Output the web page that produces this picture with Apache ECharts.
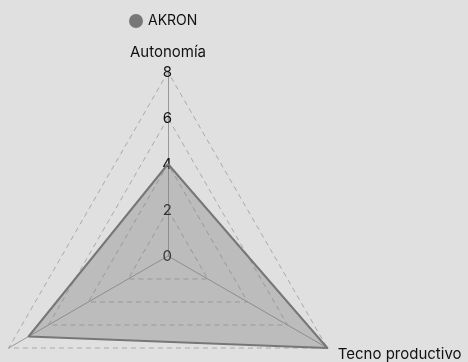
<!DOCTYPE html>
<html>
<head>
<meta charset="utf-8">
<script src="https://cdn.jsdelivr.net/npm/echarts@6/dist/echarts.min.js"></script>
<style>
  html, body { margin: 0; padding: 0; background: #e0e0e0; }
  #main { width: 468px; height: 362px; }
</style>
</head>
<body>
<div id="main"></div>
<script>
// radar goes counter-clockwise: top, bottom-left, bottom-right
var indicators = ['Autonomía', 'Gestión', 'Tecno productivo']
var values = [4, 7, 8]
var seriesName = 'AKRON'
var maxValue = 8

var chartDom = document.getElementById('main')
var myChart = echarts.init(chartDom)
var option

option = {
  backgroundColor: '#e0e0e0',
  textStyle: { fontFamily: 'Inter' },
  legend: {
    data: [seriesName],
    top: 9,
    left: 124,
    icon: 'circle',
    itemWidth: 14,
    itemHeight: 14,
    itemGap: 8,
    textStyle: { color: '#111', fontSize: 14 }
  },
  radar: {
    center: [168, 256],
    radius: 184,
    shape: 'polygon',
    splitNumber: 4,
    indicator: indicators.map((name, i) => ({
      name: name,
      min: 0,
      max: maxValue,
      axisLabel: { show: i === 0 }
    })),
    axisName: { color: '#111', fontSize: 15 },
    nameGap: 12,
    splitArea: { show: false },
    splitLine: {
      lineStyle: { color: '#aaa', type: [5, 4], width: 1 }
    },
    axisLine: { lineStyle: { color: '#999', width: 1 } },
    axisLabel: {
      color: '#111',
      fontSize: 15,
      margin: -4
    }
  },
  series: [
    {
      name: seriesName,
      type: 'radar',
      symbol: 'none',
      color: '#777',
      lineStyle: { color: '#777', width: 2 },
      areaStyle: { color: '#777', opacity: 0.35 },
      data: [{ value: values, name: seriesName }]
    }
  ]
}

option && myChart.setOption(option)
</script>
</body>
</html>
